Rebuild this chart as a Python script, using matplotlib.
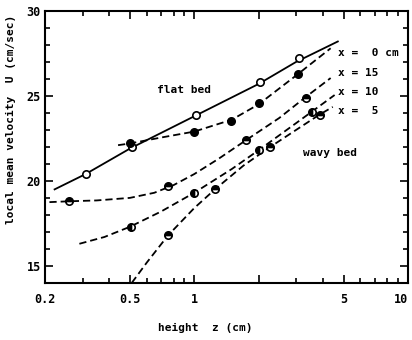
import numpy as np
import matplotlib.pyplot as plt
from matplotlib.ticker import FixedLocator, NullFormatter, MultipleLocator

# measured points (height z in cm, velocity U in cm/sec)
z_x0 = [0.31, 0.51, 1.02, 2.04, 3.08]
u_x0 = [20.4, 22.0, 23.9, 25.8, 27.2]
z_x15 = [0.50, 1.0, 1.49, 2.02, 3.05]
u_x15 = [22.2, 22.9, 23.5, 24.6, 26.3]
z_x10 = [0.26, 0.755, 1.75, 3.32]
u_x10 = [18.8, 19.7, 22.4, 24.9]
z_x5a = [0.506, 1.0, 2.0, 3.57]
u_x5a = [17.3, 19.3, 21.8, 24.05]
z_x5b = [0.755, 1.25, 2.27, 3.86]
u_x5b = [16.8, 19.5, 22.0, 23.9]

# hand-drawn fitted curves
cz_x0 = [0.222, 0.31, 0.5, 1.0, 2.0, 3.0, 4.7]
cu_x0 = [19.5, 20.4, 21.9, 23.8, 25.7, 27.0, 28.2]
cz_x15 = [0.44, 0.5, 0.7, 1.0, 1.5, 2.0, 3.0, 4.35]
cu_x15 = [22.1, 22.2, 22.55, 22.9, 23.6, 24.5, 26.2, 27.8]
cz_x10 = [0.21, 0.26, 0.35, 0.5, 0.65, 0.8, 1.0, 1.3, 1.75, 2.5, 3.3, 4.35]
cu_x10 = [18.75, 18.8, 18.85, 19.0, 19.3, 19.75, 20.4, 21.3, 22.4, 23.7, 24.9, 26.05]
cz_x5a = [0.29, 0.38, 0.5, 0.7, 1.0, 1.5, 2.0, 3.0, 4.54]
cu_x5a = [16.3, 16.7, 17.3, 18.2, 19.3, 20.7, 21.8, 23.4, 25.05]
cz_x5b = [0.51, 0.6, 0.755, 1.0, 1.25, 1.7, 2.27, 3.0, 3.86, 4.45]
cu_x5b = [14.0, 15.2, 16.8, 18.4, 19.5, 20.9, 22.0, 23.0, 23.9, 24.35]

series_labels = ["x =  0 cm", "x = 15", "x = 10", "x =  5"]
xtick_vals = [0.2, 0.5, 1, 2, 5, 10]
xtick_text = ["0.2", "0.5", "1", "", "5", "10"]

plt.rcParams['font.family'] = 'DejaVu Sans Mono'
plt.rcParams['font.weight'] = 'bold'
plt.rcParams['font.size'] = 8

fig = plt.figure(figsize=(4.12, 3.4), dpi=100)
ax = fig.add_axes([0.109, 0.168, 0.881, 0.8])

lw = 1.3
dash = (4, 2.2)
ax.plot(cz_x0, cu_x0, color='k', lw=lw)
ax.plot(cz_x15, cu_x15, color='k', lw=lw, dashes=dash)
ax.plot(cz_x10, cu_x10, color='k', lw=lw, dashes=dash)
ax.plot(cz_x5a, cu_x5a, color='k', lw=lw, dashes=dash)
ax.plot(cz_x5b, cu_x5b, color='k', lw=lw, dashes=dash)

ms = 5.3
mk = dict(ls='none', marker='o', markersize=ms, markeredgecolor='k', markeredgewidth=1.2,
          markerfacecoloralt='white')
ax.plot(z_x0, u_x0, markerfacecolor='white', **mk)
ax.plot(z_x15, u_x15, fillstyle='full', markerfacecolor='k', **mk)
ax.plot(z_x10, u_x10, fillstyle='top', markerfacecolor='k', **mk)
ax.plot(z_x5a, u_x5a, fillstyle='left', markerfacecolor='k', **mk)
ax.plot(z_x5b, u_x5b, fillstyle='top', markerfacecolor='k', **mk)

ax.set_xscale('log')
ax.set_xlim(0.2, 10)
ax.set_ylim(14, 30)

ax.xaxis.set_major_locator(FixedLocator(xtick_vals))
ax.set_xticklabels(xtick_text, fontweight='bold')
minors = [0.3, 0.4, 0.6, 0.7, 0.8, 0.9, 3, 4, 6, 7, 8, 9]
ax.xaxis.set_minor_locator(FixedLocator(minors))
ax.xaxis.set_minor_formatter(NullFormatter())
ax.yaxis.set_major_locator(FixedLocator([15, 20, 25, 30]))
ax.yaxis.set_minor_locator(MultipleLocator(1))

ax.tick_params(which='both', direction='in', top=True, right=True, width=1.2)
ax.tick_params(which='major', length=6, labelsize=8.5, pad=7)
ax.tick_params(which='minor', length=3.5)
ax.tick_params(axis='y', which='major', pad=3)
for s in ax.spines.values():
    s.set_linewidth(1.5)
# keep the "10" label inside the figure
ax.get_xticklabels()[-1].set_horizontalalignment('right')
ax.get_xticklabels()[-1].set_x(10)
for t in ax.get_yticklabels():
    t.set_fontweight('bold')

ax.set_xlabel('height  z (cm)', fontsize=8, fontweight='bold')
ax.set_ylabel('local mean velocity  U (cm/sec)', fontsize=8, fontweight='bold')
ax.xaxis.set_label_coords(0.443, -0.147)
ax.yaxis.set_label_coords(-0.08, 0.6)

ax.text(0.309, 0.71, 'flat bed', transform=ax.transAxes, va='center', ha='left',
        fontsize=8, fontweight='bold')
ax.text(0.711, 0.478, 'wavy bed', transform=ax.transAxes, va='center', ha='left',
        fontsize=8, fontweight='bold')
for lab, yy in zip(series_labels, [0.846, 0.772, 0.702, 0.632]):
    ax.text(0.807, yy, lab, transform=ax.transAxes, va='center', ha='left',
            fontsize=8, fontweight='bold')

fig.savefig('out.png', dpi=100)
